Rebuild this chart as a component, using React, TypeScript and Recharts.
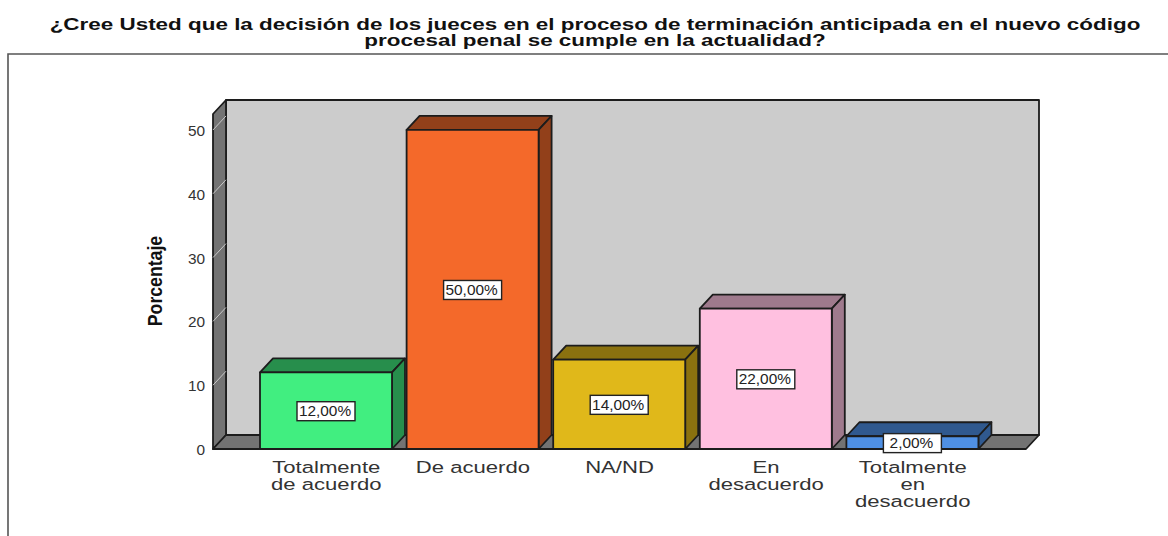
import React from "react";
import { BarChart, Bar, XAxis, YAxis, ReferenceArea, ReferenceLine, LabelList } from "recharts";

const categories = ["Totalmente\nde acuerdo", "De acuerdo", "NA/ND", "En\ndesacuerdo", "Totalmente\nen\ndesacuerdo"];
const values = [12, 50, 14, 22, 2];
const frontColors = ["#41EE80", "#F4692A", "#E0B81A", "#FFC0E0", "#4F90E4"];
const sideColors = ["#278E4C", "#92401A", "#8A710F", "#9F7A8D", "#30598F"];
const yTicks = [0, 10, 20, 30, 40, 50];
const titleLines = [
  "¿Cree Usted que la decisión de los jueces en el proceso de terminación anticipada en el nuevo código",
  "procesal penal se cumple en la actualidad?",
];
const yTitle = "Porcentaje";

const data = categories.map((name, i) => ({ name, value: values[i], front: frontColors[i], side: sideColors[i] }));

const DX = 13;
const DY = -14;
const PAD = 40;
const FONT = "'Liberation Sans', Arial, sans-serif";
const EDGE = "#1c1c1c";

const Walls = ({ x: bx, y, width: bw, height: h }: any) => {
  const x = bx - PAD;
  const w = bw + PAD * 2;
  return (
    <g stroke={EDGE} strokeWidth={1.8} strokeLinejoin="round">
      <polygon points={`${x + DX},${y + DY} ${x + w + DX},${y + DY} ${x + w + DX},${y + h + DY} ${x + DX},${y + h + DY}`} fill="#CCCCCC" />
      <polygon points={`${x},${y} ${x + DX},${y + DY} ${x + DX},${y + h + DY} ${x},${y + h}`} fill="#737373" />
      <polygon points={`${x},${y + h} ${x + DX},${y + h + DY} ${x + w + DX},${y + h + DY} ${x + w},${y + h}`} fill="#737373" />
    </g>
  );
};

const WallTick = ({ x1, y1 }: any) => (
  <line x1={x1} y1={y1} x2={x1 + DX} y2={y1 + DY} stroke="#C8C8C8" strokeWidth={1} />
);

const Bar3D = ({ x, y, width: w, height: h, payload }: any) => (
  <g stroke={EDGE} strokeWidth={1.8} strokeLinejoin="round">
    <polygon points={`${x},${y} ${x + DX},${y + DY} ${x + w + DX},${y + DY} ${x + w},${y}`} fill={payload.side} />
    <polygon points={`${x + w},${y} ${x + w + DX},${y + DY} ${x + w + DX},${y + h + DY} ${x + w},${y + h}`} fill={payload.side} />
    <rect x={x} y={y} width={w} height={h} fill={payload.front} />
  </g>
);

const ValueTag = ({ x, y, width: w, height: h, value }: any) => {
  const cx = x + w / 2;
  const cy = y + h / 2;
  return (
    <g>
      <rect x={cx - 29} y={cy - 9} width={58} height={19} fill="#FFFFFF" stroke="#222" strokeWidth={1.4} />
      <text transform={`translate(${cx - 1},${cy + 5.5}) scale(1.1,1)`} textAnchor="middle" fontFamily={FONT} fontSize={14} fill="#222">
        {`${value},00%`}
      </text>
    </g>
  );
};

const CategoryTick = ({ x, y, payload }: any) => (
  <g>
    {String(payload.value).split("\n").map((line, i) => (
      <text key={i} transform={`translate(${x},${y + i * 17}) scale(1.3,1)`} textAnchor="middle" fontFamily={FONT} fontSize={17} fill="#333">
        {line}
      </text>
    ))}
  </g>
);

const ValueTick = ({ x, y, payload }: any) => (
  <text transform={`translate(${x},${y + 6}) scale(1.1,1)`} textAnchor="end" fontFamily={FONT} fontSize={14} fill="#333">
    {payload.value}
  </text>
);

export default function App() {
  return (
    <div style={{ position: "absolute", left: 0, top: 0, width: 1168, height: 536, overflow: "hidden", background: "#fff" }}>
      <svg width={1168} height={536} style={{ position: "absolute", left: 0, top: 0 }}>
        {titleLines.map((line, i) => (
          <text key={i} transform={`translate(595,${29.5 + i * 16}) scale(1.36,1)`} textAnchor="middle" fontFamily={FONT} fontWeight="bold" fontSize={16.5} fill="#111">
            {line}
          </text>
        ))}
        <path d="M8,536 L8,54 L1168,54" fill="none" stroke="#555" strokeWidth={1.6} />
        <text transform="translate(162,281) rotate(-90) scale(1.01,1.12)" textAnchor="middle" fontFamily={FONT} fontWeight="bold" fontSize={17.5} fill="#111">
          {yTitle}
        </text>
      </svg>
      <div style={{ position: "absolute", left: 0, top: 0 }}>
        <BarChart width={1168} height={536} data={data} margin={{ top: 114, right: 142, bottom: 0, left: 163 }} barSize={132}>
          <XAxis dataKey="name" axisLine={false} tickLine={false} padding={{ left: PAD, right: PAD }} tick={<CategoryTick />} tickMargin={18} interval={0} height={87} />
          <YAxis type="number" domain={[0, 52.5]} ticks={yTicks} width={50} axisLine={false} tickLine={false} tick={<ValueTick />} tickMargin={2} />
          <ReferenceArea ifOverflow="visible" shape={<Walls />} />
          {yTicks.slice(1).map((t) => (
            <ReferenceLine key={t} y={t} ifOverflow="visible" shape={<WallTick />} />
          ))}
          <Bar dataKey="value" isAnimationActive={false} shape={<Bar3D />}>
            <LabelList dataKey="value" content={<ValueTag />} />
          </Bar>
        </BarChart>
      </div>
    </div>
  );
}
